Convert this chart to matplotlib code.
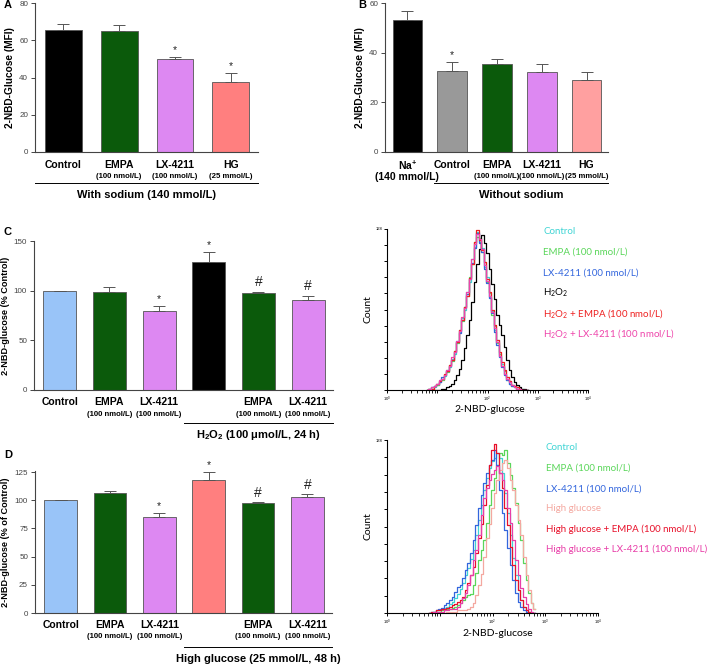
import matplotlib
matplotlib.use("Agg")
import matplotlib.pyplot as plt
from matplotlib.transforms import blended_transform_factory
from matplotlib.ticker import FixedLocator, LogLocator, NullFormatter, FixedFormatter
import numpy as np

plt.rcParams.update({"font.family": ["Liberation Sans", "DejaVu Sans"], "mathtext.default": "regular"})

W, H = 709, 664

# ---- bar panels ----
a_labels = ["Control", "EMPA", "LX-4211", "HG"]
a_sub = ["", "(100 nmol/L)", "(100 nmol/L)", "(25 mmol/L)"]
a_mean = [65.3, 64.7, 49.7, 37.8]
a_err = [3.3, 3.4, 1.4, 4.4]
a_mark = ["", "", "*", "*"]

b_labels = ["Na$^{+}$", "Control", "EMPA", "LX-4211", "HG"]
b_sub = ["", "", "(100 nmol/L)", "(100 nmol/L)", "(25 mmol/L)"]
b_mean = [53.0, 32.5, 35.6, 32.2, 29.0]
b_err = [3.8, 3.6, 1.8, 3.4, 3.1]
b_mark = ["", "*", "", "", ""]

cd_labels = ["Control", "EMPA", "LX-4211", "", "EMPA", "LX-4211"]
cd_sub = ["", "(100 nmol/L)", "(100 nmol/L)", "", "(100 nmol/L)", "(100 nmol/L)"]
c_mean = [100, 98.3, 79.2, 128.5, 97.7, 91.0]
c_err = [0, 5.7, 5.0, 10.5, 1.3, 4.0]
c_mark = ["", "", "*", "*", "#", "#"]
d_mean = [100, 106.2, 84.8, 118.2, 97.7, 103.0]
d_err = [0, 2.4, 3.8, 6.5, 0.9, 2.3]
d_mark = ["", "", "*", "*", "#", "#"]

GREEN, PURPLE, BLUE = "#0b5a0b", "#dd88f2", "#99c4f8"
a_colors = ["black", GREEN, PURPLE, "#ff7f7f"]
b_colors = ["black", "#999999", GREEN, PURPLE, "#ffa0a0"]
c_colors = [BLUE, GREEN, PURPLE, "black", GREEN, PURPLE]
d_colors = [BLUE, GREEN, PURPLE, "#ff7f7f", GREEN, PURPLE]

# ---- flow cytometry histograms (log10 fluorescence vs count) ----
hist_logx = [0.80, 0.85, 0.90, 0.95, 1.00, 1.05, 1.10, 1.15, 1.20, 1.25, 1.30, 1.35, 1.40, 1.45,
             1.50, 1.55, 1.60, 1.65, 1.70, 1.75, 1.80, 1.85, 1.90, 1.95, 2.00, 2.05, 2.10, 2.15,
             2.20, 2.25, 2.30, 2.35, 2.40, 2.45, 2.50, 2.55, 2.60, 2.65, 2.70, 2.75, 2.80]
c_control = [0, 1, 2, 2, 4, 6, 9, 11, 16, 18, 25, 29, 39, 46, 57, 64, 78, 86, 104, 114, 126, 118, 113, 98, 90, 74, 63, 48, 40, 27, 21, 13, 10, 5, 4, 2, 2, 1, 1, 0, 0]
c_empa = [0, 1, 1, 3, 4, 7, 8, 12, 14, 20, 23, 31, 37, 48, 55, 66, 75, 90, 100, 118, 122, 121, 110, 102, 86, 77, 60, 51, 37, 29, 19, 15, 8, 7, 3, 3, 1, 1, 0, 0, 0]
c_lx = [0, 1, 2, 3, 5, 6, 10, 12, 15, 19, 24, 30, 38, 45, 56, 66, 76, 88, 101, 113, 125, 117, 110, 96, 85, 73, 61, 46, 36, 26, 18, 12, 8, 5, 3, 2, 1, 1, 0, 0, 0]
c_h2o2 = [0, 0, 0, 0, 0, 0, 1, 1, 2, 3, 5, 8, 12, 17, 24, 33, 44, 56, 70, 86, 100, 112, 123, 117, 109, 96, 84, 72, 60, 52, 44, 34, 24, 16, 10, 6, 4, 2, 1, 1, 0]
c_h2o2_empa = [0, 1, 1, 3, 5, 7, 9, 13, 15, 20, 24, 31, 38, 48, 56, 66, 75, 89, 100, 118, 127, 119, 111, 102, 88, 78, 64, 52, 40, 30, 22, 16, 10, 7, 4, 3, 2, 1, 0, 0, 0]
c_h2o2_lx = [0, 1, 2, 3, 5, 8, 9, 12, 16, 19, 26, 30, 39, 47, 58, 65, 78, 88, 104, 116, 124, 120, 112, 99, 87, 75, 62, 49, 38, 27, 19, 13, 9, 6, 4, 2, 1, 1, 0, 0, 0]
c_names = ["Control", "EMPA (100 nmol/L)", "LX-4211 (100 nmol/L)", "H$_2$O$_2$",
           "H$_2$O$_2$ + EMPA (100 nmol/L)", "H$_2$O$_2$ + LX-4211 (100 nmol/L)"]

d_control = [0, 1, 1, 2, 2, 3, 4, 5, 7, 9, 12, 15, 19, 24, 30, 36, 43, 50, 62, 74, 86, 98, 108, 116, 121, 124, 128, 124, 112, 96, 80, 62, 44, 30, 18, 10, 5, 2, 1, 0, 0]
d_empa = [0, 0, 1, 1, 1, 2, 2, 3, 3, 4, 5, 6, 8, 10, 13, 14, 15, 22, 32, 42, 50, 58, 72, 86, 98, 108, 118, 128, 126, 130, 120, 110, 100, 88, 72, 58, 40, 26, 16, 8, 3]
d_lx = [0, 1, 1, 2, 3, 4, 6, 8, 10, 13, 17, 21, 22, 28, 34, 40, 48, 58, 70, 84, 94, 104, 112, 118, 122, 130, 118, 98, 80, 66, 52, 38, 26, 16, 9, 5, 2, 1, 0, 0, 0]
d_hg = [0, 0, 0, 0, 0, 0, 0, 1, 1, 1, 1, 2, 2, 2, 2, 3, 5, 8, 14, 22, 31, 45, 60, 71, 84, 96, 106, 114, 120, 122, 116, 106, 98, 86, 74, 62, 45, 30, 18, 8, 3]
d_hg_empa = [0, 1, 1, 2, 2, 3, 3, 4, 5, 6, 7, 9, 10, 13, 18, 24, 30, 37, 48, 60, 71, 86, 102, 118, 130, 135, 128, 112, 100, 84, 70, 53, 38, 26, 18, 10, 5, 2, 1, 0, 0]
d_hg_lx = [0, 0, 1, 1, 1, 1, 2, 2, 3, 3, 3, 5, 8, 12, 16, 22, 30, 42, 50, 62, 78, 92, 100, 106, 111, 114, 117, 112, 106, 98, 84, 72, 58, 42, 30, 20, 13, 7, 3, 1, 0]
d_names = ["Control", "EMPA (100 nmol/L)", "LX-4211 (100 nmol/L)", "High glucose",
           "High glucose + EMPA (100 nmol/L)", "High glucose + LX-4211 (100 nmol/L)"]

c_hist_colors = ["#3fd4d4", "#5ad65a", "#3366dd", "black", "#ee2020", "#ee44aa"]
d_hist_colors = ["#3fd4d4", "#5ad65a", "#3366dd", "#f4a8a0", "#e8102a", "#e83ea8"]

fig = plt.figure(figsize=(W / 100, H / 100), dpi=100)


def rect(x0, x1, y0, y1):
    # pixel box (top-left origin) -> figure fraction
    return [x0 / W, 1 - y1 / H, (x1 - x0) / W, (y1 - y0) / H]


def fy(py):
    return 1 - py / H


def bar_panel(box, means, errs, marks, colors, labels, subs, ylim, yticks, xlim, ylabel, lab_y, ylsize=7.3):
    ax = fig.add_axes(rect(*box))
    x = np.arange(len(means))
    ax.bar(x, means, width=0.66, color=colors, edgecolor="#555555", linewidth=0.6, zorder=2)
    ax.errorbar(x, means, yerr=[np.zeros(len(errs)), errs], fmt="none", ecolor="#555555",
                elinewidth=0.7, capsize=4, capthick=0.7, zorder=3)
    for xi, m, e, s in zip(x, means, errs, marks):
        if s:
            ax.text(xi, m + e + (ylim[1] * 0.015), s, ha="center", va="bottom",
                    fontsize=7.5 if s == "*" else 10, color="#222222")
    ax.set_xlim(*xlim)
    ax.set_ylim(*ylim)
    ax.set_yticks(yticks)
    ax.set_xticks([])
    for sp in ("top", "right"):
        ax.spines[sp].set_visible(False)
    for sp in ("left", "bottom"):
        ax.spines[sp].set_color("#444444")
        ax.spines[sp].set_linewidth(0.8)
    ax.tick_params(axis="y", direction="out", length=3, width=0.7, labelsize=5.8, colors="#444444", pad=2)
    ax.set_ylabel(ylabel, fontsize=ylsize, fontweight="bold", labelpad=3)
    tr = blended_transform_factory(ax.transData, fig.transFigure)
    for xi, lab, sub in zip(x, labels, subs):
        ax.text(xi, fy(lab_y), lab, transform=tr, ha="center", va="center", fontsize=7.5, fontweight="bold")
        if sub:
            ax.text(xi, fy(lab_y + 12), sub, transform=tr, ha="center", va="center", fontsize=5.6, fontweight="bold")
    return ax, tr


def group(ax, tr, x0, x1, py, text):
    ax.plot([x0, x1], [fy(py), fy(py)], transform=tr, color="black", lw=0.7, clip_on=False)
    ax.text((x0 + x1) / 2, fy(py + 12), text, transform=tr, ha="center", va="center", fontsize=8, fontweight="bold")


# A
ax, tr = bar_panel((35, 258, 3, 152), a_mean, a_err, a_mark, a_colors, a_labels, a_sub,
                   (0, 80), [0, 20, 40, 60, 80], (-0.51, 3.49), "2-NBD-Glucose (MFI)", 165)
group(ax, tr, -0.51, 3.49, 183, "With sodium (140 mmol/L)")
fig.text(4 / W, fy(5), "A", fontsize=8, fontweight="bold", va="center")

# B
ax, tr = bar_panel((385, 608, 3, 152), b_mean, b_err, b_mark, b_colors, b_labels, b_sub,
                   (0, 60), [0, 20, 40, 60], (-0.5, 4.48), "2-NBD-Glucose (MFI)", 165)
ax.text(0, fy(177), "(140 mmol/L)", transform=tr, ha="center", va="center", fontsize=7.5, fontweight="bold")
group(ax, tr, 0.6, 4.48, 183, "Without sodium")
fig.text(358 / W, fy(5), "B", fontsize=8, fontweight="bold", va="center")

# C
ax, tr = bar_panel((34, 333, 241, 390), c_mean, c_err, c_mark, c_colors, cd_labels, cd_sub,
                   (0, 150), [0, 50, 100, 150], (-0.52, 5.5), "2-NBD-glucose (% Control)", 402, 6.6)
group(ax, tr, 2.5, 5.5, 423, "H$_2$O$_2$ (100 μmol/L, 24 h)")
fig.text(4 / W, fy(232), "C", fontsize=8, fontweight="bold", va="center")

# D
ax, tr = bar_panel((35, 332, 471, 613), d_mean, d_err, d_mark, d_colors, cd_labels, cd_sub,
                   (0, 125), [0, 25, 50, 75, 100, 125], (-0.52, 5.5), "2-NBD-glucose (% of Control)", 625, 6.6)
ax.set_ylim(0, 126)
group(ax, tr, 2.5, 5.5, 647, "High glucose (25 mmol/L, 48 h)")
fig.text(4 / W, fy(455), "D", fontsize=8, fontweight="bold", va="center")


def hist_panel(box, curves, colors, names, ymax, leg_x, leg_y0, xlab_x, xlab_y):
    ax = fig.add_axes(rect(*box))
    xs = 10 ** np.array(hist_logx)
    for y, c in zip(curves, colors):
        ax.plot(xs, y, color=c, lw=0.9, drawstyle="steps-mid")
    ax.set_xscale("log")
    ax.set_xlim(1, 1e4)
    ax.set_ylim(0, ymax)
    for sp in ("top", "right"):
        ax.spines[sp].set_visible(False)
    ax.xaxis.set_major_locator(FixedLocator([1, 10, 100, 1000, 10000]))
    ax.xaxis.set_major_formatter(FixedFormatter(["10$^0$", "", "10$^2$", "10$^3$", "10$^4$"]))
    ax.xaxis.set_minor_locator(LogLocator(base=10, subs=np.arange(2, 10)))
    ax.xaxis.set_minor_formatter(NullFormatter())
    ax.yaxis.set_major_locator(FixedLocator(np.linspace(0, ymax, 11)))
    ax.yaxis.set_major_formatter(FixedFormatter([""] * 10 + [str(ymax)]))
    ax.tick_params(axis="both", which="major", length=2.5, width=0.7, labelsize=3, pad=1)
    ax.tick_params(axis="x", which="minor", length=1.8, width=0.6)
    ax.set_ylabel("Count", fontsize=7.5, family=["Lato", "DejaVu Sans"], labelpad=2)
    fig.text(xlab_x / W, fy(xlab_y), "2-NBD-glucose", fontsize=7.5,
             family=["Lato", "DejaVu Sans"], ha="center", va="center")
    for i, (n, c) in enumerate(zip(names, colors)):
        fig.text(leg_x / W, fy(leg_y0 + i * 20.3), n, color=c, fontsize=7,
                 family=["Lato", "DejaVu Sans"], va="center")


hist_panel((387, 588, 229, 390), [c_control, c_empa, c_lx, c_h2o2, c_h2o2_empa, c_h2o2_lx],
           c_hist_colors, c_names, 128, 543, 232, 490, 410)
hist_panel((387, 598, 440, 613), [d_control, d_empa, d_lx, d_hg, d_hg_empa, d_hg_lx],
           d_hist_colors, d_names, 138, 546, 448, 498, 633)

fig.savefig("out.png", dpi=100)
